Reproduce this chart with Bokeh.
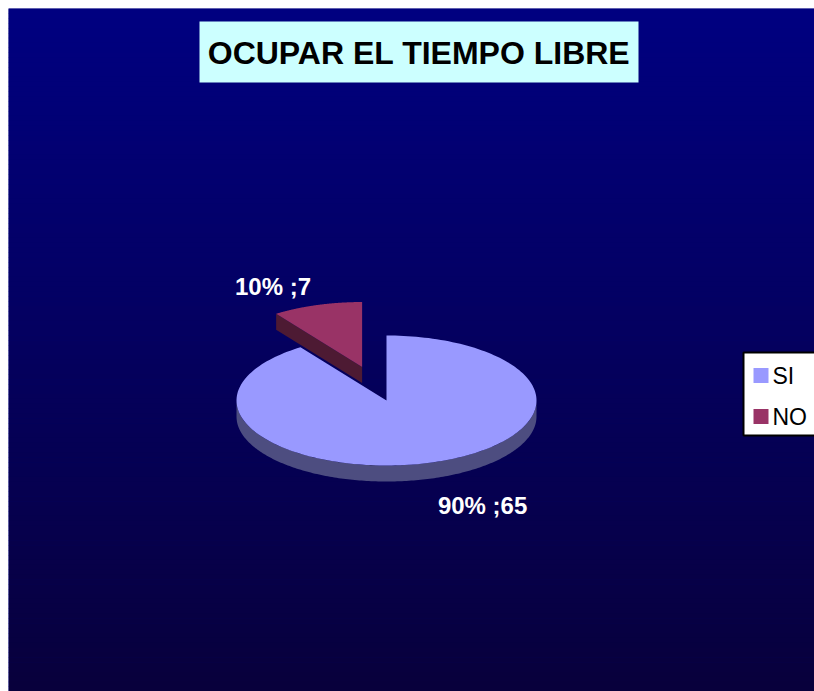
import numpy as np
from bokeh.plotting import figure
from bokeh.models import Range1d
from bokeh.core.properties import value
from bokeh.embed import file_html
from bokeh.resources import INLINE

# ---- data ----
categories = ["SI", "NO"]
values = [65, 7]
percent_labels = ["90%", "10%"]
title = "OCUPAR EL TIEMPO LIBRE"

# ---- styles ----
top_colors = ["#9999FF", "#993366"]
side_colors = ["#4D4D80", "#4D1A33"]
explode = [0.0, 0.54]
label_offsets = [(51, 43), (-44, -19)]   # px offset from slice edge midpoint
W, H = 806, 683        # chart frame
CX, CY = 378, 392      # pie centre in frame px
RX, RY = 150, 65
DEPTH = 16
FONT = "Liberation Sans"

p = figure(width=W + 8, height=H + 8, output_backend="svg", toolbar_location=None,
           x_range=Range1d(0, W), y_range=Range1d(H, 0),
           min_border_left=8, min_border_top=8, min_border_right=0, min_border_bottom=0)
p.axis.visible = False
p.grid.visible = False
p.outline_line_color = None
p.background_fill_color = "#000080"
p.border_fill_color = "white"

# background gradient
N = 140
edges = np.linspace(0, H, N + 1)
t = np.linspace(0, 1, N)
top = np.array([0, 0, 128]); bot = np.array([8, 0, 60])
cols = ["#%02x%02x%02x" % tuple(int(round(c)) for c in (top + (bot - top) * ti)) for ti in t]
p.quad(left=0, right=W, top=edges[:-1], bottom=edges[1:] + 0.5, fill_color=cols,
       line_color=None)

# title box
p.quad(left=191, right=630, top=13, bottom=74, fill_color="#CCFFFF", line_color=None)
p.text(x=[410.5], y=[44], text=[title], text_font=value(FONT), text_font_style="bold",
       text_font_size="32px", text_color="black", text_align="center",
       text_baseline="middle")

# pie geometry
total = sum(values)
angles = [v / total * 2 * np.pi for v in values]
start = np.pi / 2
slices = []
a0 = start
for ang in angles:
    a1 = a0 - ang  # clockwise
    slices.append((a1, a0))
    a0 = a1

def ept(cx, cy, th):
    return cx + RX * np.cos(th), cy - RY * np.sin(th)

def draw_slice(i):
    lo, hi = slices[i]
    mid = (lo + hi) / 2
    cx = CX + explode[i] * RX * np.cos(mid)
    cy = CY - explode[i] * RY * np.sin(mid)
    th = np.linspace(lo, hi, 200)
    # outer side: visible where sin(theta) < 0
    for a, b in [(-np.pi, 0), (np.pi, 2 * np.pi), (-3 * np.pi, -2 * np.pi)]:
        s, e = max(a, lo), min(b, hi)
        if e > s:
            tt = np.linspace(s, e, 200)
            xs, ys = ept(cx, cy, tt)
            px = np.concatenate([xs, xs[::-1]])
            py = np.concatenate([ys, ys[::-1] + DEPTH])
            p.patch(px, py, fill_color=side_colors[i], line_color=None)
    # radial faces facing the viewer
    for edge in (lo, hi):
        ex, ey = ept(cx, cy, edge)
        ny = np.sin(edge - np.pi / 2) if edge == lo else np.sin(edge + np.pi / 2)
        if ny < -1e-6:
            p.patch([cx, ex, ex, cx], [cy, ey, ey + DEPTH, cy + DEPTH],
                    fill_color=side_colors[i], line_color=None)
    xs, ys = ept(cx, cy, th)
    p.patch(np.concatenate([[cx], xs]), np.concatenate([[cy], ys]),
            fill_color=top_colors[i], line_color=None)
    # label
    mx, my = ept(cx, cy, mid)
    ox, oy = label_offsets[i]
    p.text(x=[mx + ox], y=[my + oy], text=[f"{percent_labels[i]} ;{values[i]}"],
           text_font=value(FONT), text_font_style="bold", text_font_size="24px",
           text_color="white", text_align="center", text_baseline="middle")

draw_slice(1)
draw_slice(0)

# legend
p.quad(left=735, right=W + 10, top=344, bottom=427, fill_color="white",
       line_color="black", line_width=2)
for i, cat in enumerate(categories):
    y = 367 + i * 41
    p.quad(left=745, right=760, top=y - 7.5, bottom=y + 7.5,
           fill_color=top_colors[i], line_color=None)
    p.text(x=[764], y=[y], text=[cat], text_font=value(FONT), text_font_size="23px",
           text_color="black", text_align="left", text_baseline="middle")

open("out.html", "w").write(file_html(p, INLINE))
